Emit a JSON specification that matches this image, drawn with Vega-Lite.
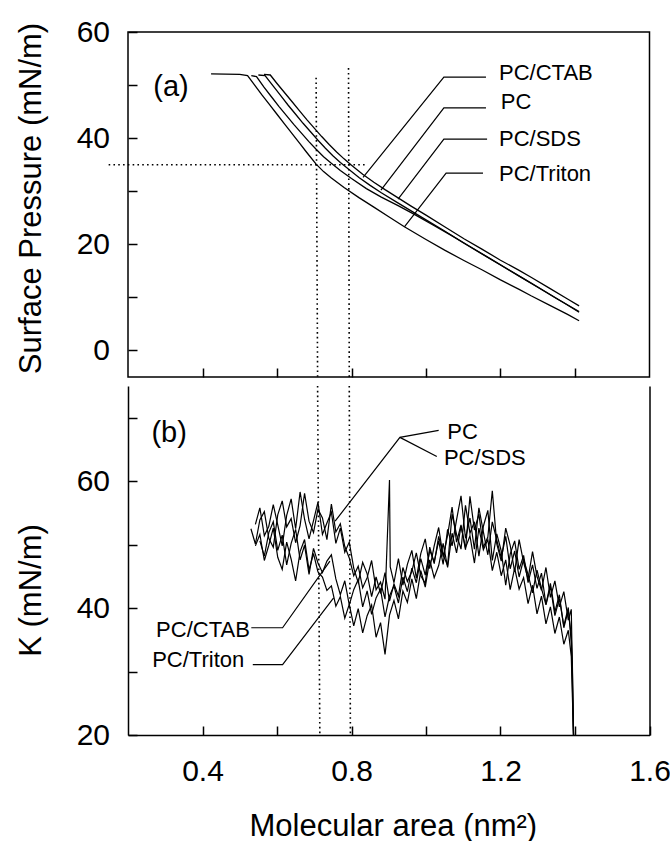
{
  "$schema": "https://vega.github.io/schema/vega-lite/v6.json",
  "autosize": {"type": "pad"},
  "padding": {"left": 14, "top": 16, "right": 0, "bottom": 0},
  "background": "white",
  "spacing": 6,
  "config": {
    "font": "Liberation Sans",
    "view": {"stroke": "black", "strokeWidth": 1.5},
    "axis": {
      "grid": false, "domain": false,
      "labelFont": "Liberation Sans", "labelFontSize": 30, "labelColor": "black",
      "titleFont": "Liberation Sans", "titleFontSize": 31, "titleFontWeight": "normal", "titleColor": "black",
      "tickColor": "black", "tickSize": -9, "tickWidth": 1.5,
      "labelFlush": false, "labelOverlap": false
    },
    "text": {"font": "Liberation Sans", "color": "black"}
  },
  "datasets": {
    "iso": [
      {"s":"PC/Triton","a":0.423,"p":52.1},{"s":"PC/Triton","a":0.5,"p":52.0},{"s":"PC/Triton","a":0.521,"p":51.8},{"s":"PC/Triton","a":0.54,"p":50.0},{"s":"PC/Triton","a":0.56,"p":48.1},{"s":"PC/Triton","a":0.58,"p":46.3},{"s":"PC/Triton","a":0.6,"p":44.5},{"s":"PC/Triton","a":0.62,"p":42.7},{"s":"PC/Triton","a":0.64,"p":40.9},{"s":"PC/Triton","a":0.66,"p":39.1},{"s":"PC/Triton","a":0.68,"p":37.3},{"s":"PC/Triton","a":0.705,"p":35.1},{"s":"PC/Triton","a":0.725,"p":33.7},{"s":"PC/Triton","a":0.746,"p":32.5},{"s":"PC/Triton","a":0.78,"p":30.7},{"s":"PC/Triton","a":0.82,"p":28.8},{"s":"PC/Triton","a":0.86,"p":27.0},{"s":"PC/Triton","a":0.9,"p":25.2},{"s":"PC/Triton","a":0.942,"p":23.3},{"s":"PC/Triton","a":1.0,"p":20.9},{"s":"PC/Triton","a":1.05,"p":18.9},{"s":"PC/Triton","a":1.103,"p":16.9},{"s":"PC/Triton","a":1.15,"p":15.2},{"s":"PC/Triton","a":1.2,"p":13.3},{"s":"PC/Triton","a":1.25,"p":11.5},{"s":"PC/Triton","a":1.282,"p":10.3},{"s":"PC/Triton","a":1.33,"p":8.6},{"s":"PC/Triton","a":1.38,"p":6.8},{"s":"PC/Triton","a":1.411,"p":5.6},
      {"s":"PC/CTAB","a":0.565,"p":52.0},{"s":"PC/CTAB","a":0.582,"p":51.9},{"s":"PC/CTAB","a":0.6,"p":50.3},{"s":"PC/CTAB","a":0.62,"p":48.6},{"s":"PC/CTAB","a":0.64,"p":46.9},{"s":"PC/CTAB","a":0.66,"p":45.2},{"s":"PC/CTAB","a":0.68,"p":43.5},{"s":"PC/CTAB","a":0.7,"p":41.9},{"s":"PC/CTAB","a":0.72,"p":40.3},{"s":"PC/CTAB","a":0.74,"p":38.8},{"s":"PC/CTAB","a":0.76,"p":37.4},{"s":"PC/CTAB","a":0.78,"p":36.1},{"s":"PC/CTAB","a":0.8,"p":34.9},{"s":"PC/CTAB","a":0.83,"p":33.2},{"s":"PC/CTAB","a":0.86,"p":31.7},{"s":"PC/CTAB","a":0.89,"p":30.3},{"s":"PC/CTAB","a":0.924,"p":28.8},{"s":"PC/CTAB","a":0.96,"p":27.2},{"s":"PC/CTAB","a":1.0,"p":25.5},{"s":"PC/CTAB","a":1.05,"p":23.3},{"s":"PC/CTAB","a":1.103,"p":21.0},{"s":"PC/CTAB","a":1.15,"p":19.1},{"s":"PC/CTAB","a":1.2,"p":17.0},{"s":"PC/CTAB","a":1.25,"p":15.1},{"s":"PC/CTAB","a":1.282,"p":13.8},{"s":"PC/CTAB","a":1.33,"p":11.8},{"s":"PC/CTAB","a":1.38,"p":9.7},{"s":"PC/CTAB","a":1.411,"p":8.4},
      {"s":"PC","a":0.55,"p":51.9},{"s":"PC","a":0.568,"p":51.8},{"s":"PC","a":0.59,"p":49.8},{"s":"PC","a":0.61,"p":48.0},{"s":"PC","a":0.63,"p":46.2},{"s":"PC","a":0.65,"p":44.5},{"s":"PC","a":0.67,"p":42.8},{"s":"PC","a":0.69,"p":41.2},{"s":"PC","a":0.71,"p":39.6},{"s":"PC","a":0.73,"p":38.1},{"s":"PC","a":0.75,"p":36.7},{"s":"PC","a":0.77,"p":35.4},{"s":"PC","a":0.79,"p":34.3},{"s":"PC","a":0.82,"p":32.6},{"s":"PC","a":0.85,"p":31.1},{"s":"PC","a":0.88,"p":29.7},{"s":"PC","a":0.92,"p":28.0},{"s":"PC","a":0.96,"p":26.3},{"s":"PC","a":1.0,"p":24.6},{"s":"PC","a":1.05,"p":22.5},{"s":"PC","a":1.1,"p":20.3},{"s":"PC","a":1.15,"p":18.2},{"s":"PC","a":1.2,"p":16.1},{"s":"PC","a":1.25,"p":14.0},{"s":"PC","a":1.3,"p":11.9},{"s":"PC","a":1.35,"p":9.8},{"s":"PC","a":1.411,"p":7.35},
      {"s":"PC/SDS","a":0.531,"p":51.8},{"s":"PC/SDS","a":0.545,"p":51.6},{"s":"PC/SDS","a":0.565,"p":49.6},{"s":"PC/SDS","a":0.585,"p":47.8},{"s":"PC/SDS","a":0.605,"p":46.0},{"s":"PC/SDS","a":0.625,"p":44.3},{"s":"PC/SDS","a":0.645,"p":42.6},{"s":"PC/SDS","a":0.665,"p":41.0},{"s":"PC/SDS","a":0.685,"p":39.4},{"s":"PC/SDS","a":0.705,"p":37.9},{"s":"PC/SDS","a":0.725,"p":36.5},{"s":"PC/SDS","a":0.745,"p":35.3},{"s":"PC/SDS","a":0.77,"p":33.9},{"s":"PC/SDS","a":0.8,"p":32.4},{"s":"PC/SDS","a":0.84,"p":30.5},{"s":"PC/SDS","a":0.88,"p":28.9},{"s":"PC/SDS","a":0.925,"p":27.3},{"s":"PC/SDS","a":0.97,"p":25.6},{"s":"PC/SDS","a":1.02,"p":23.6},{"s":"PC/SDS","a":1.07,"p":21.6},{"s":"PC/SDS","a":1.12,"p":19.5},{"s":"PC/SDS","a":1.17,"p":17.4},{"s":"PC/SDS","a":1.22,"p":15.3},{"s":"PC/SDS","a":1.27,"p":13.2},{"s":"PC/SDS","a":1.32,"p":11.1},{"s":"PC/SDS","a":1.37,"p":9.0},{"s":"PC/SDS","a":1.411,"p":7.2}
    ],
    "leadA": [
      {"id":"PC/CTAB","o":1,"a":0.831,"p":32.6},{"id":"PC/CTAB","o":2,"a":1.048,"p":51.5},{"id":"PC/CTAB","o":3,"a":1.161,"p":51.5},
      {"id":"PC","o":1,"a":0.879,"p":30.2},{"id":"PC","o":2,"a":1.048,"p":45.7},{"id":"PC","o":3,"a":1.161,"p":45.7},
      {"id":"PC/SDS","o":1,"a":0.925,"p":28.5},{"id":"PC/SDS","o":2,"a":1.048,"p":39.8},{"id":"PC/SDS","o":3,"a":1.164,"p":39.8},
      {"id":"PC/Triton","o":1,"a":0.942,"p":23.3},{"id":"PC/Triton","o":2,"a":1.054,"p":33.4},{"id":"PC/Triton","o":3,"a":1.153,"p":33.4}
    ],
    "labA": [
      {"t":"PC/CTAB","a":1.196,"p":52.2},{"t":"PC","a":1.201,"p":46.8},{"t":"PC/SDS","a":1.196,"p":39.8},{"t":"PC/Triton","a":1.196,"p":33.2}
    ],
    "tagA": [{"t":"(a)","a":0.268,"p":49.7}],
    "dotA": [
      {"x":0.148,"y":35,"x2":0.84,"y2":35},
      {"x":0.705,"y":51.4,"x2":0.709,"y2":-5},
      {"x":0.792,"y":53.2,"x2":0.794,"y2":-5}
    ],
    "kdata": [
      {"s":"PC","a":0.530,"k":52.5},{"s":"PC","a":0.542,"k":50.1},{"s":"PC","a":0.554,"k":53.9},{"s":"PC","a":0.566,"k":55.2},{"s":"PC","a":0.578,"k":51.0},{"s":"PC","a":0.590,"k":49.6},{"s":"PC","a":0.602,"k":54.7},{"s":"PC","a":0.614,"k":56.9},{"s":"PC","a":0.626,"k":52.8},{"s":"PC","a":0.638,"k":54.1},{"s":"PC","a":0.650,"k":50.3},{"s":"PC","a":0.662,"k":53.0},{"s":"PC","a":0.674,"k":58.1},{"s":"PC","a":0.686,"k":53.7},{"s":"PC","a":0.698,"k":51.9},{"s":"PC","a":0.710,"k":55.6},{"s":"PC","a":0.722,"k":54.2},{"s":"PC","a":0.734,"k":50.8},{"s":"PC","a":0.746,"k":56.4},{"s":"PC","a":0.758,"k":52.0},{"s":"PC","a":0.770,"k":53.3},{"s":"PC","a":0.782,"k":49.7},{"s":"PC","a":0.794,"k":47.9},{"s":"PC","a":0.806,"k":45.1},{"s":"PC","a":0.818,"k":46.6},{"s":"PC","a":0.830,"k":43.2},{"s":"PC","a":0.842,"k":44.8},{"s":"PC","a":0.854,"k":47.5},{"s":"PC","a":0.866,"k":42.9},{"s":"PC","a":0.878,"k":44.1},{"s":"PC","a":0.890,"k":41.4},{"s":"PC","a":0.902,"k":60.2},{"s":"PC","a":0.904,"k":46.5},{"s":"PC","a":0.914,"k":44.0},{"s":"PC","a":0.926,"k":47.8},{"s":"PC","a":0.938,"k":43.6},{"s":"PC","a":0.950,"k":46.9},{"s":"PC","a":0.962,"k":49.1},{"s":"PC","a":0.974,"k":44.7},{"s":"PC","a":0.986,"k":48.6},{"s":"PC","a":0.998,"k":50.9},{"s":"PC","a":1.010,"k":46.2},{"s":"PC","a":1.022,"k":49.8},{"s":"PC","a":1.034,"k":52.7},{"s":"PC","a":1.046,"k":48.1},{"s":"PC","a":1.058,"k":51.5},{"s":"PC","a":1.070,"k":55.9},{"s":"PC","a":1.082,"k":50.4},{"s":"PC","a":1.094,"k":53.1},{"s":"PC","a":1.106,"k":49.2},{"s":"PC","a":1.118,"k":57.6},{"s":"PC","a":1.130,"k":52.3},{"s":"PC","a":1.142,"k":54.8},{"s":"PC","a":1.154,"k":49.6},{"s":"PC","a":1.166,"k":51.2},{"s":"PC","a":1.178,"k":58.5},{"s":"PC","a":1.190,"k":50.1},{"s":"PC","a":1.202,"k":47.4},{"s":"PC","a":1.214,"k":52.6},{"s":"PC","a":1.226,"k":49.9},{"s":"PC","a":1.238,"k":45.7},{"s":"PC","a":1.250,"k":50.8},{"s":"PC","a":1.262,"k":47.2},{"s":"PC","a":1.274,"k":44.6},{"s":"PC","a":1.286,"k":48.9},{"s":"PC","a":1.298,"k":45.0},{"s":"PC","a":1.310,"k":42.8},{"s":"PC","a":1.322,"k":46.4},{"s":"PC","a":1.334,"k":41.7},{"s":"PC","a":1.346,"k":44.3},{"s":"PC","a":1.358,"k":40.2},{"s":"PC","a":1.370,"k":42.6},{"s":"PC","a":1.382,"k":38.1},{"s":"PC","a":1.390,"k":39.8},{"s":"PC","a":1.393,"k":30.0},{"s":"PC","a":1.396,"k":20.0},
      {"s":"PC/SDS","a":0.542,"k":53.2},{"s":"PC/SDS","a":0.554,"k":55.8},{"s":"PC/SDS","a":0.566,"k":51.4},{"s":"PC/SDS","a":0.578,"k":52.9},{"s":"PC/SDS","a":0.590,"k":56.3},{"s":"PC/SDS","a":0.602,"k":53.1},{"s":"PC/SDS","a":0.614,"k":49.8},{"s":"PC/SDS","a":0.626,"k":54.6},{"s":"PC/SDS","a":0.638,"k":57.2},{"s":"PC/SDS","a":0.650,"k":52.5},{"s":"PC/SDS","a":0.662,"k":58.3},{"s":"PC/SDS","a":0.674,"k":54.0},{"s":"PC/SDS","a":0.686,"k":50.9},{"s":"PC/SDS","a":0.698,"k":53.8},{"s":"PC/SDS","a":0.710,"k":56.7},{"s":"PC/SDS","a":0.722,"k":51.6},{"s":"PC/SDS","a":0.734,"k":53.4},{"s":"PC/SDS","a":0.746,"k":55.1},{"s":"PC/SDS","a":0.758,"k":50.2},{"s":"PC/SDS","a":0.770,"k":52.6},{"s":"PC/SDS","a":0.782,"k":48.8},{"s":"PC/SDS","a":0.794,"k":50.4},{"s":"PC/SDS","a":0.806,"k":46.3},{"s":"PC/SDS","a":0.818,"k":44.0},{"s":"PC/SDS","a":0.830,"k":47.2},{"s":"PC/SDS","a":0.842,"k":45.4},{"s":"PC/SDS","a":0.854,"k":41.8},{"s":"PC/SDS","a":0.866,"k":44.9},{"s":"PC/SDS","a":0.878,"k":42.3},{"s":"PC/SDS","a":0.890,"k":45.6},{"s":"PC/SDS","a":0.902,"k":41.1},{"s":"PC/SDS","a":0.914,"k":43.8},{"s":"PC/SDS","a":0.926,"k":41.9},{"s":"PC/SDS","a":0.938,"k":46.4},{"s":"PC/SDS","a":0.950,"k":44.2},{"s":"PC/SDS","a":0.962,"k":45.8},{"s":"PC/SDS","a":0.974,"k":48.7},{"s":"PC/SDS","a":0.986,"k":45.1},{"s":"PC/SDS","a":0.998,"k":43.9},{"s":"PC/SDS","a":1.010,"k":49.6},{"s":"PC/SDS","a":1.022,"k":47.0},{"s":"PC/SDS","a":1.034,"k":51.3},{"s":"PC/SDS","a":1.046,"k":48.4},{"s":"PC/SDS","a":1.058,"k":46.7},{"s":"PC/SDS","a":1.070,"k":54.8},{"s":"PC/SDS","a":1.082,"k":51.6},{"s":"PC/SDS","a":1.094,"k":49.3},{"s":"PC/SDS","a":1.106,"k":56.2},{"s":"PC/SDS","a":1.118,"k":51.8},{"s":"PC/SDS","a":1.130,"k":53.6},{"s":"PC/SDS","a":1.142,"k":48.2},{"s":"PC/SDS","a":1.154,"k":52.9},{"s":"PC/SDS","a":1.166,"k":55.4},{"s":"PC/SDS","a":1.178,"k":47.5},{"s":"PC/SDS","a":1.190,"k":51.7},{"s":"PC/SDS","a":1.202,"k":49.0},{"s":"PC/SDS","a":1.214,"k":43.6},{"s":"PC/SDS","a":1.226,"k":48.5},{"s":"PC/SDS","a":1.238,"k":50.6},{"s":"PC/SDS","a":1.250,"k":46.1},{"s":"PC/SDS","a":1.262,"k":48.3},{"s":"PC/SDS","a":1.274,"k":44.0},{"s":"PC/SDS","a":1.286,"k":46.8},{"s":"PC/SDS","a":1.298,"k":43.1},{"s":"PC/SDS","a":1.310,"k":45.5},{"s":"PC/SDS","a":1.322,"k":40.6},{"s":"PC/SDS","a":1.334,"k":43.9},{"s":"PC/SDS","a":1.346,"k":39.4},{"s":"PC/SDS","a":1.358,"k":42.1},{"s":"PC/SDS","a":1.370,"k":36.9},{"s":"PC/SDS","a":1.382,"k":39.7},{"s":"PC/SDS","a":1.390,"k":35.6},{"s":"PC/SDS","a":1.393,"k":31.0},{"s":"PC/SDS","a":1.396,"k":20.0},
      {"s":"PC/CTAB","a":0.554,"k":50.6},{"s":"PC/CTAB","a":0.566,"k":48.2},{"s":"PC/CTAB","a":0.578,"k":51.9},{"s":"PC/CTAB","a":0.590,"k":53.6},{"s":"PC/CTAB","a":0.602,"k":49.1},{"s":"PC/CTAB","a":0.614,"k":51.5},{"s":"PC/CTAB","a":0.626,"k":46.8},{"s":"PC/CTAB","a":0.638,"k":50.2},{"s":"PC/CTAB","a":0.650,"k":52.4},{"s":"PC/CTAB","a":0.662,"k":47.6},{"s":"PC/CTAB","a":0.674,"k":49.9},{"s":"PC/CTAB","a":0.686,"k":45.3},{"s":"PC/CTAB","a":0.698,"k":49.4},{"s":"PC/CTAB","a":0.710,"k":47.1},{"s":"PC/CTAB","a":0.722,"k":45.6},{"s":"PC/CTAB","a":0.734,"k":47.4},{"s":"PC/CTAB","a":0.746,"k":48.4},{"s":"PC/CTAB","a":0.758,"k":44.6},{"s":"PC/CTAB","a":0.770,"k":42.1},{"s":"PC/CTAB","a":0.782,"k":44.3},{"s":"PC/CTAB","a":0.794,"k":40.5},{"s":"PC/CTAB","a":0.806,"k":42.9},{"s":"PC/CTAB","a":0.818,"k":44.5},{"s":"PC/CTAB","a":0.830,"k":40.2},{"s":"PC/CTAB","a":0.842,"k":42.7},{"s":"PC/CTAB","a":0.854,"k":39.0},{"s":"PC/CTAB","a":0.866,"k":41.6},{"s":"PC/CTAB","a":0.878,"k":43.0},{"s":"PC/CTAB","a":0.890,"k":38.6},{"s":"PC/CTAB","a":0.902,"k":41.9},{"s":"PC/CTAB","a":0.914,"k":43.5},{"s":"PC/CTAB","a":0.926,"k":40.8},{"s":"PC/CTAB","a":0.938,"k":44.9},{"s":"PC/CTAB","a":0.950,"k":42.6},{"s":"PC/CTAB","a":0.962,"k":46.3},{"s":"PC/CTAB","a":0.974,"k":44.0},{"s":"PC/CTAB","a":0.986,"k":47.8},{"s":"PC/CTAB","a":0.998,"k":45.2},{"s":"PC/CTAB","a":1.010,"k":49.1},{"s":"PC/CTAB","a":1.022,"k":47.3},{"s":"PC/CTAB","a":1.034,"k":50.6},{"s":"PC/CTAB","a":1.046,"k":46.9},{"s":"PC/CTAB","a":1.058,"k":52.4},{"s":"PC/CTAB","a":1.070,"k":49.8},{"s":"PC/CTAB","a":1.082,"k":53.9},{"s":"PC/CTAB","a":1.094,"k":57.7},{"s":"PC/CTAB","a":1.106,"k":51.0},{"s":"PC/CTAB","a":1.118,"k":54.2},{"s":"PC/CTAB","a":1.130,"k":49.3},{"s":"PC/CTAB","a":1.142,"k":55.8},{"s":"PC/CTAB","a":1.154,"k":52.0},{"s":"PC/CTAB","a":1.166,"k":48.4},{"s":"PC/CTAB","a":1.178,"k":53.6},{"s":"PC/CTAB","a":1.190,"k":50.7},{"s":"PC/CTAB","a":1.202,"k":47.9},{"s":"PC/CTAB","a":1.214,"k":51.3},{"s":"PC/CTAB","a":1.226,"k":46.2},{"s":"PC/CTAB","a":1.238,"k":49.0},{"s":"PC/CTAB","a":1.250,"k":44.9},{"s":"PC/CTAB","a":1.262,"k":47.7},{"s":"PC/CTAB","a":1.274,"k":45.3},{"s":"PC/CTAB","a":1.286,"k":42.4},{"s":"PC/CTAB","a":1.298,"k":46.0},{"s":"PC/CTAB","a":1.310,"k":43.1},{"s":"PC/CTAB","a":1.322,"k":40.5},{"s":"PC/CTAB","a":1.334,"k":43.4},{"s":"PC/CTAB","a":1.346,"k":38.8},{"s":"PC/CTAB","a":1.358,"k":41.5},{"s":"PC/CTAB","a":1.370,"k":37.2},{"s":"PC/CTAB","a":1.382,"k":40.1},{"s":"PC/CTAB","a":1.390,"k":34.6},{"s":"PC/CTAB","a":1.393,"k":28.0},{"s":"PC/CTAB","a":1.396,"k":20.0},
      {"s":"PC/Triton","a":0.542,"k":49.8},{"s":"PC/Triton","a":0.554,"k":51.6},{"s":"PC/Triton","a":0.566,"k":47.5},{"s":"PC/Triton","a":0.578,"k":49.9},{"s":"PC/Triton","a":0.590,"k":52.6},{"s":"PC/Triton","a":0.602,"k":48.0},{"s":"PC/Triton","a":0.614,"k":46.1},{"s":"PC/Triton","a":0.626,"k":50.4},{"s":"PC/Triton","a":0.638,"k":47.7},{"s":"PC/Triton","a":0.650,"k":44.3},{"s":"PC/Triton","a":0.662,"k":48.9},{"s":"PC/Triton","a":0.674,"k":50.8},{"s":"PC/Triton","a":0.686,"k":46.0},{"s":"PC/Triton","a":0.698,"k":48.6},{"s":"PC/Triton","a":0.710,"k":45.7},{"s":"PC/Triton","a":0.722,"k":44.9},{"s":"PC/Triton","a":0.734,"k":42.8},{"s":"PC/Triton","a":0.746,"k":43.5},{"s":"PC/Triton","a":0.758,"k":40.3},{"s":"PC/Triton","a":0.770,"k":41.8},{"s":"PC/Triton","a":0.782,"k":38.4},{"s":"PC/Triton","a":0.794,"k":40.6},{"s":"PC/Triton","a":0.806,"k":37.2},{"s":"PC/Triton","a":0.818,"k":39.9},{"s":"PC/Triton","a":0.830,"k":36.1},{"s":"PC/Triton","a":0.842,"k":38.8},{"s":"PC/Triton","a":0.854,"k":40.5},{"s":"PC/Triton","a":0.866,"k":35.4},{"s":"PC/Triton","a":0.878,"k":37.7},{"s":"PC/Triton","a":0.890,"k":32.7},{"s":"PC/Triton","a":0.902,"k":38.9},{"s":"PC/Triton","a":0.914,"k":41.2},{"s":"PC/Triton","a":0.926,"k":38.3},{"s":"PC/Triton","a":0.938,"k":42.7},{"s":"PC/Triton","a":0.950,"k":40.9},{"s":"PC/Triton","a":0.962,"k":44.6},{"s":"PC/Triton","a":0.974,"k":41.5},{"s":"PC/Triton","a":0.986,"k":45.9},{"s":"PC/Triton","a":0.998,"k":43.3},{"s":"PC/Triton","a":1.010,"k":47.6},{"s":"PC/Triton","a":1.022,"k":44.8},{"s":"PC/Triton","a":1.034,"k":46.7},{"s":"PC/Triton","a":1.046,"k":50.2},{"s":"PC/Triton","a":1.058,"k":46.4},{"s":"PC/Triton","a":1.070,"k":51.8},{"s":"PC/Triton","a":1.082,"k":48.7},{"s":"PC/Triton","a":1.094,"k":52.9},{"s":"PC/Triton","a":1.106,"k":49.5},{"s":"PC/Triton","a":1.118,"k":51.4},{"s":"PC/Triton","a":1.130,"k":47.1},{"s":"PC/Triton","a":1.142,"k":52.6},{"s":"PC/Triton","a":1.154,"k":49.2},{"s":"PC/Triton","a":1.166,"k":50.8},{"s":"PC/Triton","a":1.178,"k":45.9},{"s":"PC/Triton","a":1.190,"k":48.8},{"s":"PC/Triton","a":1.202,"k":45.1},{"s":"PC/Triton","a":1.214,"k":47.6},{"s":"PC/Triton","a":1.226,"k":42.9},{"s":"PC/Triton","a":1.238,"k":46.3},{"s":"PC/Triton","a":1.250,"k":43.0},{"s":"PC/Triton","a":1.262,"k":44.8},{"s":"PC/Triton","a":1.274,"k":40.7},{"s":"PC/Triton","a":1.286,"k":43.6},{"s":"PC/Triton","a":1.298,"k":39.1},{"s":"PC/Triton","a":1.310,"k":41.9},{"s":"PC/Triton","a":1.322,"k":37.5},{"s":"PC/Triton","a":1.334,"k":40.2},{"s":"PC/Triton","a":1.346,"k":36.0},{"s":"PC/Triton","a":1.358,"k":38.6},{"s":"PC/Triton","a":1.370,"k":34.3},{"s":"PC/Triton","a":1.382,"k":36.5},{"s":"PC/Triton","a":1.390,"k":32.4},{"s":"PC/Triton","a":1.393,"k":26.0},{"s":"PC/Triton","a":1.396,"k":20.0}
    ],
    "leadB": [
      {"id":"PC","o":1,"a":0.756,"k":53.7},{"id":"PC","o":2,"a":0.930,"k":66.9},{"id":"PC","o":3,"a":1.034,"k":68.0},
      {"id":"PC/SDS","o":1,"a":0.930,"k":66.9},{"id":"PC/SDS","o":2,"a":1.029,"k":63.9},
      {"id":"PC/CTAB","o":1,"a":0.531,"k":36.9},{"id":"PC/CTAB","o":2,"a":0.615,"k":36.9},{"id":"PC/CTAB","o":3,"a":0.742,"k":47.4},
      {"id":"PC/Triton","o":1,"a":0.535,"k":31.1},{"id":"PC/Triton","o":2,"a":0.615,"k":31.1},{"id":"PC/Triton","o":3,"a":0.752,"k":41.6}
    ],
    "labBL": [{"t":"PC","a":1.057,"k":67.7},{"t":"PC/SDS","a":1.048,"k":63.7}],
    "labBR": [{"t":"PC/CTAB","a":0.527,"k":36.6},{"t":"PC/Triton","a":0.512,"k":31.8}],
    "tagB": [{"t":"(b)","a":0.263,"k":67.6}],
    "dotB": [
      {"x":0.709,"y":75,"x2":0.715,"y2":20},
      {"x":0.794,"y":75,"x2":0.797,"y2":20}
    ]
  },
  "vconcat": [
    {
      "width": 521.5,
      "height": 345,
      "resolve": {"axis": {"x": "independent", "y": "independent"}},
      "layer": [
        {
          "data": {"name": "iso"},
          "mark": {"type": "line", "color": "black", "strokeWidth": 1.3},
          "encoding": {
            "x": {"field": "a", "type": "quantitative", "scale": {"domain": [0.2, 1.6], "nice": false, "zero": false},
                  "axis": {"values": [0.4, 0.6, 0.8, 1.0, 1.2, 1.4], "labels": false, "title": null}},
            "y": {"field": "p", "type": "quantitative", "scale": {"domain": [-5, 60], "nice": false, "zero": false},
                  "axis": {"values": [0, 10, 20, 30, 40, 50, 60], "labelExpr": "datum.value % 20 === 0 ? datum.label : ''",
                           "labelPadding": 27.5, "title": "Surface Pressure (mN/m)", "titleX": -81, "titleY": 166}},
            "detail": {"field": "s"},
            "order": {"field": "a", "type": "quantitative"}
          }
        },
        {
          "data": {"name": "leadA"},
          "mark": {"type": "line", "color": "black", "strokeWidth": 1.2},
          "encoding": {
            "x": {"field": "a", "type": "quantitative", "axis": null},
            "y": {"field": "p", "type": "quantitative", "axis": null},
            "detail": {"field": "id"},
            "order": {"field": "o", "type": "quantitative"}
          }
        },
        {
          "data": {"name": "dotA"},
          "mark": {"type": "rule", "color": "black", "strokeWidth": 1.6, "strokeDash": [1.6, 3.2]},
          "encoding": {
            "x": {"field": "x", "type": "quantitative", "axis": null},
            "x2": {"field": "x2"},
            "y": {"field": "y", "type": "quantitative", "axis": null},
            "y2": {"field": "y2"}
          }
        },
        {
          "data": {"name": "labA"},
          "mark": {"type": "text", "align": "left", "baseline": "middle", "fontSize": 22},
          "encoding": {
            "x": {"field": "a", "type": "quantitative", "axis": null},
            "y": {"field": "p", "type": "quantitative", "axis": null},
            "text": {"field": "t"}
          }
        },
        {
          "data": {"name": "tagA"},
          "mark": {"type": "text", "align": "left", "baseline": "middle", "fontSize": 29},
          "encoding": {
            "x": {"field": "a", "type": "quantitative", "axis": null},
            "y": {"field": "p", "type": "quantitative", "axis": null},
            "text": {"field": "t"}
          }
        }
      ]
    },
    {
      "width": 521.5,
      "height": 349,
      "view": {"stroke": null},
      "resolve": {"axis": {"x": "independent", "y": "independent"}},
      "layer": [
        {
          "data": {"name": "kdata"},
          "mark": {"type": "line", "color": "black", "strokeWidth": 1.2},
          "encoding": {
            "x": {"field": "a", "type": "quantitative", "scale": {"domain": [0.2, 1.6], "nice": false, "zero": false},
                  "axis": {"values": [0.4, 0.6, 0.8, 1.0, 1.2, 1.4, 1.6], "format": ".1f",
                           "labelExpr": "indexof(['0.4','0.8','1.2','1.6'], datum.label) >= 0 ? datum.label : ''",
                           "labelPadding": 30, "domain": true, "domainColor": "black", "domainWidth": 1.5,
                           "title": "Molecular area (nm²)", "titleFontSize": 31, "titleAlign": "left", "titleX": 121, "titleY": 76}},
            "y": {"field": "k", "type": "quantitative", "scale": {"domain": [20, 75], "nice": false, "zero": false},
                  "axis": {"values": [20, 30, 40, 50, 60, 70], "labelExpr": "datum.value % 20 === 0 ? datum.label : ''",
                           "labelPadding": 27.5, "domain": true, "domainColor": "black", "domainWidth": 1.5,
                           "title": "K (mN/m)", "titleX": -81, "titleY": 204}},
            "detail": {"field": "s"},
            "order": {"field": "a", "type": "quantitative"}
          }
        },
        {
          "data": {"name": "dotB"},
          "mark": {"type": "rule", "color": "black", "strokeWidth": 1.6, "strokeDash": [1.6, 3.2]},
          "encoding": {
            "x": {"field": "x", "type": "quantitative", "axis": null},
            "x2": {"field": "x2"},
            "y": {"field": "y", "type": "quantitative",
                  "axis": {"orient": "right", "labels": false, "ticks": false, "domain": true, "domainColor": "black", "domainWidth": 1.5, "title": null}},
            "y2": {"field": "y2"}
          }
        },
        {
          "data": {"name": "leadB"},
          "mark": {"type": "line", "color": "black", "strokeWidth": 1.2},
          "encoding": {
            "x": {"field": "a", "type": "quantitative", "axis": null},
            "y": {"field": "k", "type": "quantitative", "axis": null},
            "detail": {"field": "id"},
            "order": {"field": "o", "type": "quantitative"}
          }
        },
        {
          "data": {"name": "labBL"},
          "mark": {"type": "text", "align": "left", "baseline": "middle", "fontSize": 22},
          "encoding": {
            "x": {"field": "a", "type": "quantitative", "axis": null},
            "y": {"field": "k", "type": "quantitative", "axis": null},
            "text": {"field": "t"}
          }
        },
        {
          "data": {"name": "labBR"},
          "mark": {"type": "text", "align": "right", "baseline": "middle", "fontSize": 22},
          "encoding": {
            "x": {"field": "a", "type": "quantitative", "axis": null},
            "y": {"field": "k", "type": "quantitative", "axis": null},
            "text": {"field": "t"}
          }
        },
        {
          "data": {"name": "tagB"},
          "mark": {"type": "text", "align": "left", "baseline": "middle", "fontSize": 29},
          "encoding": {
            "x": {"field": "a", "type": "quantitative", "axis": null},
            "y": {"field": "k", "type": "quantitative", "axis": null},
            "text": {"field": "t"}
          }
        }
      ]
    }
  ]
}
